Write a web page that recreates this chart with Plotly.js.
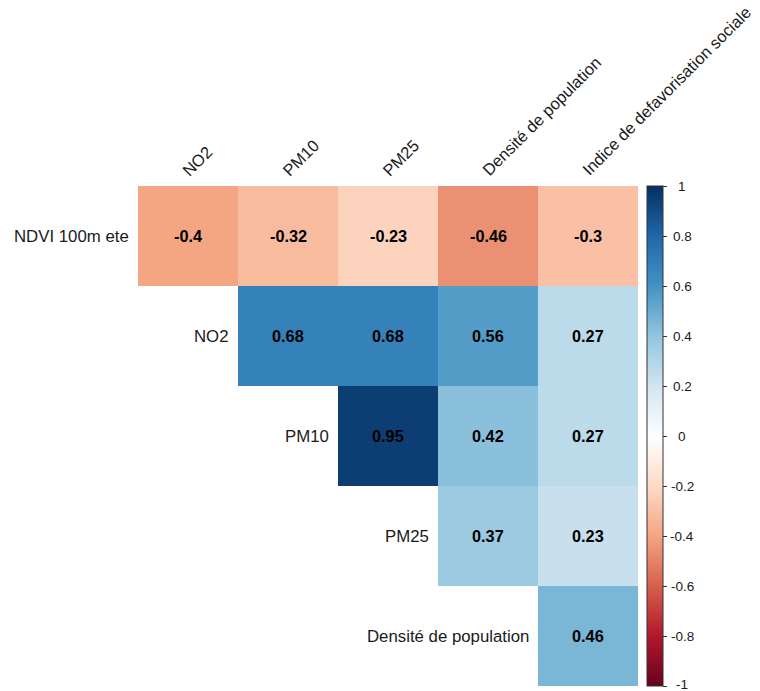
<!DOCTYPE html>
<html>
<head>
<meta charset="utf-8">
<script src="https://cdn.plot.ly/plotly-3.0.1.min.js"></script>
<style>html,body{margin:0;padding:0;background:#fff;}#chart{width:760px;height:691px;}</style>
</head>
<body>
<div id="chart"></div>
<script>
var rowLabels = ["NDVI 100m ete", "NO2", "PM10", "PM25", "Densité de population"];
var colLabels = ["NO2", "PM10", "PM25", "Densité de population", "Indice de defavorisation sociale"];
var rowNDVI   = [-0.4, -0.32, -0.23, -0.46, -0.3];
var rowNO2    = [null, 0.68, 0.68, 0.56, 0.27];
var rowPM10   = [null, null, 0.95, 0.42, 0.27];
var rowPM25   = [null, null, null, 0.37, 0.23];
var rowDensite = [null, null, null, null, 0.46];
var cbTickVals = [1, 0.8, 0.6, 0.4, 0.2, 0, -0.2, -0.4, -0.6, -0.8, -1];
var cbTickText = ["1", "0.8", "0.6", "0.4", "0.2", "0", "-0.2", "-0.4", "-0.6", "-0.8", "-1"];

var z = [rowNDVI, rowNO2, rowPM10, rowPM25, rowDensite];

var rdbu = ["#67001F","#B2182B","#D6604D","#F4A582","#FDDBC7","#FFFFFF","#D1E5F0","#92C5DE","#4393C3","#2166AC","#053061"];
var colorscale = rdbu.map(function(c, i){ return [i/(rdbu.length-1), c]; });

var FONT = "Liberation Sans, Arial, Helvetica, sans-serif";
var annotations = [];

// cell values
z.forEach(function(row, i){
  row.forEach(function(v, j){
    if (v === null) return;
    annotations.push({
      x: colLabels[j], y: rowLabels[i], xref: "x", yref: "y",
      text: "<b>" + String(v) + "</b>", showarrow: false,
      font: {family: FONT, size: 16.3, color: "#000"}
    });
  });
});

// row labels, just left of the first cell of each row
z.forEach(function(row, i){
  var first = row.findIndex(function(v){ return v !== null; });
  annotations.push({
    x: colLabels[first], y: rowLabels[i], xref: "x", yref: "y",
    xanchor: "right", xshift: -57, text: rowLabels[i], showarrow: false,
    font: {family: FONT, size: 16.8, color: "#1a1a1a"}
  });
});

// column labels, rotated
colLabels.forEach(function(c){
  annotations.push({
    x: c, y: 1, xref: "x", yref: "paper",
    xanchor: "left", yanchor: "bottom", xshift: -12, yshift: 4,
    textangle: -45, text: c, showarrow: false,
    font: {family: FONT, size: 16.5, color: "#1a1a1a"}
  });
});

// colour bar tick labels (centred)
cbTickVals.forEach(function(v, k){
  annotations.push({
    x: 1.088, y: (v + 1) / 2, xref: "paper", yref: "paper",
    xanchor: "center", yanchor: "middle", yshift: (v === -1 ? 2 : 0),
    text: cbTickText[k], showarrow: false,
    font: {family: FONT, size: 13.5, color: "#1a1a1a"}
  });
});

var trace = {
  type: "heatmap",
  x: colLabels,
  y: rowLabels,
  z: z,
  zmin: -1, zmax: 1,
  colorscale: colorscale,
  hoverongaps: false,
  colorbar: {
    x: 1.018, xanchor: "left", xpad: 0, ypad: 0,
    y: 0.5, yanchor: "middle",
    thickness: 16, thicknessmode: "pixels",
    len: 500, lenmode: "pixels",
    outlinewidth: 1, outlinecolor: "#333",
    tickmode: "array", tickvals: cbTickVals,
    ticks: "outside", ticklen: 4, tickcolor: "#333",
    showticklabels: false
  }
};

var layout = {
  width: 760, height: 691,
  margin: {l: 138, r: 122, t: 186, b: 5, pad: 0},
  paper_bgcolor: "#fff", plot_bgcolor: "#fff",
  xaxis: {type: "category", showticklabels: false, showgrid: false, zeroline: false, showline: false, ticks: "", range: [-0.5, 4.5], fixedrange: true},
  yaxis: {type: "category", showticklabels: false, showgrid: false, zeroline: false, showline: false, ticks: "", range: [4.5, -0.5], fixedrange: true},
  annotations: annotations,
  showlegend: false
};

Plotly.newPlot("chart", [trace], layout, {displayModeBar: false, staticPlot: true});
</script>
</body>
</html>
